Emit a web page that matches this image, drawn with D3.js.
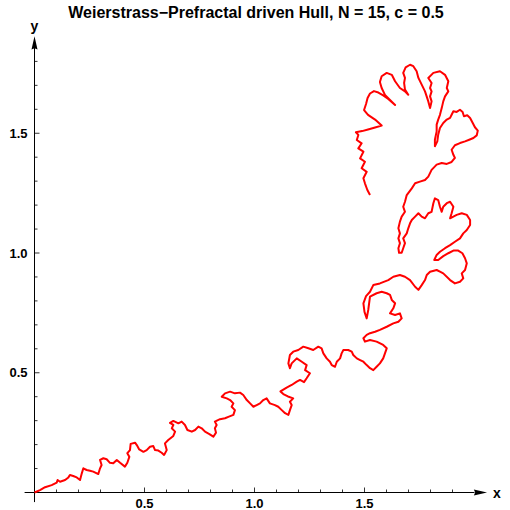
<!DOCTYPE html>
<html lang="en">
<head>
<meta charset="UTF-8">
<title>Weierstrass-Prefractal driven Hull</title>
<script src="https://d3js.org/d3.v7.min.js"></script>
<style>
  body { margin: 0; background: #fff; }
  svg text { font-family: "Liberation Sans", Arial, sans-serif; font-weight: bold; fill: #000; }
</style>
</head>
<body>
<div id="chart"></div>
<script>
// curve points, in data units, from the origin to the free end
const xs = [0,0.025,0.048,0.078,0.101,0.105,0.116,0.139,0.154,0.161,0.176,0.192,0.207,0.215,0.222,0.237,0.252,0.267,0.290,0.298,
  0.305,0.298,0.313,0.328,0.343,0.358,0.374,0.389,0.411,0.422,0.431,0.422,0.434,0.437,0.457,0.465,0.476,0.495,0.510,0.525,
  0.540,0.548,0.563,0.578,0.589,0.601,0.593,0.608,0.631,0.639,0.624,0.631,0.616,0.631,0.654,0.669,0.684,0.695,0.715,0.730,
  0.745,0.760,0.775,0.795,0.813,0.825,0.820,0.828,0.820,0.843,0.866,0.881,0.904,0.911,0.896,0.904,0.889,0.874,0.851,0.866,
  0.889,0.911,0.934,0.949,0.965,0.980,0.995,1.010,1.025,1.040,1.055,1.070,1.093,1.108,1.124,1.139,1.154,1.161,1.169,1.161,
  1.176,1.152,1.131,1.118,1.146,1.169,1.192,1.207,1.225,1.237,1.252,1.230,1.237,1.215,1.192,1.169,1.161,1.154,1.161,1.176,
  1.199,1.222,1.245,1.267,1.290,1.305,1.313,1.328,1.343,1.351,1.366,1.374,1.389,1.396,1.404,1.426,1.442,1.449,1.465,1.480,
  1.495,1.510,1.525,1.540,1.555,1.570,1.585,1.593,1.601,1.585,1.555,1.525,1.502,1.495,1.510,1.525,1.548,1.570,1.601,1.631,
  1.654,1.669,1.661,1.639,1.616,1.631,1.639,1.624,1.616,1.601,1.578,1.555,1.525,1.517,1.510,1.500,1.495,1.507,1.525,1.540,
  1.570,1.608,1.631,1.661,1.684,1.707,1.730,1.745,1.760,1.775,1.783,1.798,1.828,1.843,1.858,1.889,1.911,1.934,1.949,1.942,
  1.957,1.965,1.957,1.945,1.926,1.904,1.881,1.858,1.835,1.817,1.828,1.843,1.866,1.889,1.911,1.934,1.949,1.965,1.980,1.980,
  1.965,1.942,1.919,1.904,1.889,1.896,1.904,1.889,1.874,1.858,1.851,1.843,1.835,1.820,1.813,1.805,1.790,1.775,1.760,1.745,
  1.730,1.715,1.707,1.699,1.692,1.676,1.684,1.676,1.669,1.657,1.654,1.661,1.654,1.661,1.654,1.661,1.669,1.684,1.676,1.684,
  1.692,1.715,1.730,1.752,1.775,1.790,1.805,1.828,1.851,1.874,1.896,1.911,1.904,1.896,1.911,1.934,1.957,1.976,1.995,2.010,
  2.015,2.002,1.992,1.980,1.967,1.952,1.946,1.934,1.919,1.904,1.896,1.889,1.874,1.858,1.843,1.835,1.831,1.820,1.820,1.828,
  1.828,1.835,1.843,1.851,1.858,1.866,1.881,1.874,1.881,1.866,1.843,1.813,1.790,1.805,1.798,1.805,1.798,1.805,1.798,1.790,
  1.775,1.760,1.745,1.737,1.722,1.707,1.687,1.676,1.684,1.680,1.684,1.699,1.684,1.661,1.639,1.624,1.601,1.578,1.570,1.578,
  1.593,1.616,1.639,1.608,1.585,1.563,1.543,1.525,1.514,1.507,1.498,1.516,1.548,1.578,1.548,1.516,1.489,1.461,1.472,1.465,
  1.487,1.472,1.495,1.480,1.502,1.487,1.510,1.495,1.502,1.513,1.525];
const ys = [0,0.010,0.022,0.031,0.041,0.052,0.045,0.052,0.063,0.073,0.069,0.063,0.052,0.080,0.101,0.094,0.091,0.087,0.077,0.101,
  0.115,0.136,0.143,0.139,0.124,0.122,0.136,0.124,0.108,0.124,0.149,0.164,0.177,0.203,0.208,0.198,0.180,0.170,0.177,0.191,
  0.194,0.177,0.175,0.166,0.157,0.177,0.205,0.219,0.236,0.254,0.268,0.282,0.291,0.299,0.289,0.296,0.282,0.261,0.254,0.261,
  0.275,0.268,0.254,0.244,0.233,0.250,0.268,0.282,0.296,0.306,0.310,0.316,0.324,0.344,0.358,0.372,0.386,0.393,0.400,0.414,
  0.421,0.414,0.417,0.407,0.386,0.372,0.358,0.365,0.372,0.386,0.393,0.372,0.365,0.358,0.344,0.331,0.324,0.344,0.365,0.379,
  0.393,0.401,0.411,0.422,0.438,0.449,0.463,0.470,0.461,0.477,0.498,0.511,0.532,0.546,0.560,0.539,0.519,0.539,0.574,0.588,
  0.595,0.609,0.602,0.595,0.609,0.602,0.581,0.560,0.546,0.532,0.525,0.546,0.560,0.581,0.595,0.595,0.588,0.574,0.560,0.553,
  0.546,0.532,0.519,0.511,0.525,0.539,0.560,0.581,0.602,0.616,0.630,0.637,0.630,0.644,0.658,0.665,0.671,0.679,0.692,0.706,
  0.713,0.727,0.748,0.741,0.748,0.769,0.790,0.804,0.825,0.832,0.838,0.832,0.818,0.762,0.727,0.754,0.790,0.820,0.838,0.866,
  0.873,0.887,0.901,0.908,0.901,0.887,0.859,0.846,0.866,0.887,0.908,0.922,0.929,0.922,0.915,0.887,0.873,0.880,0.894,0.915,
  0.929,0.957,0.978,0.999,1.010,1.010,0.999,0.987,0.971,0.971,0.992,1.005,1.020,1.033,1.047,1.061,1.082,1.096,1.117,1.138,
  1.159,1.166,1.159,1.152,1.145,1.166,1.193,1.214,1.208,1.193,1.172,1.193,1.221,1.228,1.208,1.172,1.166,1.145,1.152,1.166,
  1.152,1.138,1.124,1.103,1.082,1.061,1.041,1.020,1.001,1.001,1.020,1.041,1.061,1.082,1.103,1.131,1.152,1.172,1.193,1.214,
  1.242,1.270,1.291,1.298,1.305,1.319,1.347,1.369,1.376,1.372,1.380,1.397,1.410,1.431,1.450,1.459,1.466,1.473,1.480,1.491,
  1.511,1.525,1.543,1.564,1.575,1.571,1.589,1.598,1.589,1.592,1.577,1.564,1.557,1.543,1.522,1.494,1.466,1.446,1.473,1.508,
  1.536,1.557,1.577,1.605,1.633,1.654,1.675,1.689,1.717,1.744,1.759,1.752,1.731,1.710,1.689,1.675,1.654,1.633,1.605,1.633,
  1.675,1.703,1.731,1.759,1.780,1.786,1.775,1.752,1.731,1.710,1.682,1.661,1.675,1.689,1.717,1.744,1.752,1.738,1.714,1.689,
  1.660,1.639,1.618,1.643,1.658,1.670,1.676,1.666,1.647,1.622,1.597,1.577,1.557,1.532,1.524,1.516,1.509,1.504,1.493,1.472,
  1.458,1.437,1.423,1.395,1.381,1.354,1.339,1.312,1.291,1.263,1.242];

const titleText = "Weierstrass\u2212Prefractal driven Hull, N = 15, c = 0.5";
const xTickLabels = [0.5, 1.0, 1.5];
const yTickLabels = [0.5, 1.0, 1.5];
const minorTicks = d3.range(1, 20).map(d => d / 10);

const width = 510, height = 510;

const x = d3.scaleLinear().domain([0, 2]).range([34.5, 474.5]);
const y = d3.scaleLinear().domain([0, 1]).range([492.5, 253]);

const svg = d3.select("#chart").append("svg")
    .attr("width", width)
    .attr("height", height);

svg.append("text")
    .attr("x", 256).attr("y", 18)
    .attr("text-anchor", "middle")
    .style("font-size", "16px")
    .text(titleText);

const axes = svg.append("g");

// x axis with arrow
axes.append("line")
    .attr("x1", x(-0.045)).attr("x2", x(2.0))
    .attr("y1", y(0)).attr("y2", y(0))
    .attr("stroke", "#000").attr("stroke-width", 1);
axes.append("path")
    .attr("d", `M${x(2.057)},${y(0)} L${x(1.997)},${y(0) - 3} L${x(2.003)},${y(0)} L${x(1.997)},${y(0) + 3} Z`)
    .attr("fill", "#000");
axes.append("text")
    .attr("x", x(2.057) + 6).attr("y", y(0) + 5)
    .style("font-size", "14px")
    .text("x");

// y axis with arrow
axes.append("line")
    .attr("x1", x(0)).attr("x2", x(0))
    .attr("y1", y(-0.04)).attr("y2", y(1.86))
    .attr("stroke", "#000").attr("stroke-width", 1);
axes.append("path")
    .attr("d", `M${x(0)},${y(1.905)} L${x(0) - 3},${y(1.85)} L${x(0)},${y(1.855)} L${x(0) + 3},${y(1.85)} Z`)
    .attr("fill", "#000");
axes.append("text")
    .attr("x", x(0)).attr("y", y(1.905) - 5)
    .attr("text-anchor", "middle")
    .style("font-size", "14px")
    .text("y");

// ticks (pointing into the plot)
minorTicks.forEach(t => {
    const major = xTickLabels.some(v => Math.abs(v - t) < 1e-9);
    const len = major ? 5 : 3;
    axes.append("line")
        .attr("x1", x(t)).attr("x2", x(t))
        .attr("y1", y(0)).attr("y2", y(0) - len)
        .attr("stroke", "#000").attr("stroke-width", 0.8);
});
d3.range(1, 19).map(d => d / 10).forEach(t => {
    const major = yTickLabels.some(v => Math.abs(v - t) < 1e-9);
    const len = major ? 5 : 3;
    axes.append("line")
        .attr("x1", x(0)).attr("x2", x(0) + len)
        .attr("y1", y(t)).attr("y2", y(t))
        .attr("stroke", "#000").attr("stroke-width", 0.8);
});

axes.selectAll(".xl").data(xTickLabels).enter().append("text")
    .attr("x", d => x(d)).attr("y", y(0) + 15)
    .attr("text-anchor", "middle")
    .style("font-size", "13px")
    .text(d => d.toFixed(1));
axes.selectAll(".yl").data(yTickLabels).enter().append("text")
    .attr("x", x(0) - 7).attr("y", d => y(d) + 4.5)
    .attr("text-anchor", "end")
    .style("font-size", "13px")
    .text(d => d.toFixed(1));

// the curve
const pts = xs.map((d, i) => [d, ys[i]]);
const line = d3.line().x(d => x(d[0])).y(d => y(d[1]));
svg.append("path")
    .datum(pts)
    .attr("d", line)
    .attr("fill", "none")
    .attr("stroke", "#ff0000")
    .attr("stroke-width", 2)
    .attr("stroke-linejoin", "round");
</script>
</body>
</html>
